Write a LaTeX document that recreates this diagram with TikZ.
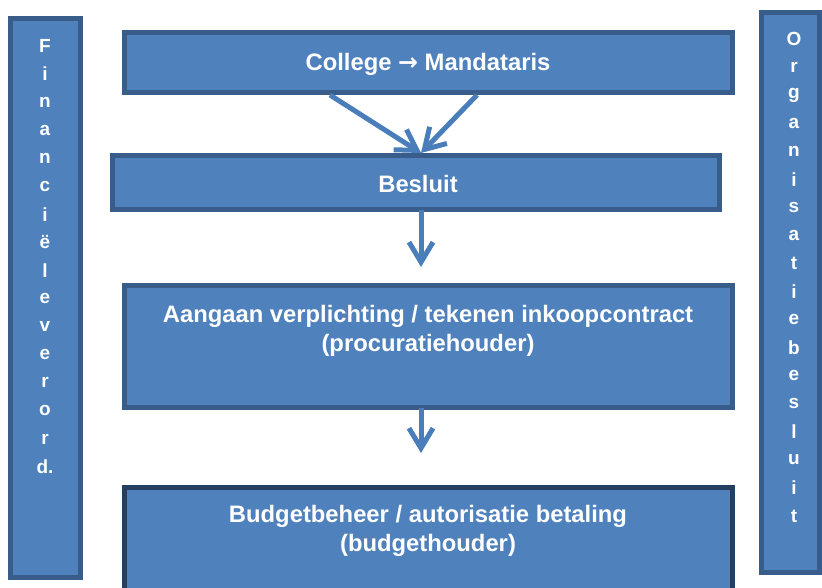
\documentclass[tikz,border=0pt]{standalone}
\usepackage{fontspec}
\setmainfont{Liberation Sans}
\newfontfamily\arrowfont{DejaVu Sans}
\usetikzlibrary{arrows.meta}
\definecolor{boxfill}{HTML}{4F81BD}
\definecolor{boxline}{HTML}{385D8A}
\definecolor{boxdark}{HTML}{243F60}
\definecolor{arrowcol}{HTML}{4A7EBB}
\tikzset{
  panel/.style={draw=boxline, fill=boxfill, line width=5pt, inner sep=0pt, outer sep=0pt},
  boxtext/.style={text=white, font=\fontsize{23.8}{29}\selectfont\bfseries, align=center, inner sep=0pt},
  sidetext/.style={text=white, font=\fontsize{19}{20}\selectfont\bfseries, inner sep=0pt},
  flow/.style={draw=arrowcol, line width=5pt, -{Straight Barb[length=20pt,width=24pt]}}
}
\begin{document}
\begin{tikzpicture}[x=1pt,y=-1pt]
\useasboundingbox (0,0) rectangle (822,587);
% side bars
\node[panel, minimum width=70pt, minimum height=559pt] (fin) at (45.5,298) {};
\node[panel, minimum width=58pt, minimum height=560pt] (org) at (790.5,292.5) {};
% boxes
\node[panel, minimum width=608pt, minimum height=60pt] (college) at (428.5,62.5) {};
\node[panel, minimum width=607pt, minimum height=54pt] (besluit) at (416,182.5) {};
\node[panel, minimum width=608pt, minimum height=122pt] (aangaan) at (428.5,346.5) {};
\node[panel, draw=boxdark, minimum width=608pt, minimum height=110pt] (budget) at (428.5,542.5) {};
% texts
\node[boxtext] (tcollege) at (428,64) {College {\arrowfont\bfseries →} Mandataris};
\node[boxtext] (tbesluit) at (418,184) {Besluit};
\node[boxtext] (taangaan) at (428,330.5) {Aangaan verplichting / tekenen inkoopcontract\\(procuratiehouder)};
\node[boxtext] (tbudget) at (428,531) {Budgetbeheer / autorisatie betaling\\(budgethouder)};
% side letters
\foreach \ch [count=\i from 0] in {F,i,n,a,n,c,i,ë,l,e,v,e,r,o,r,d.}
  \node[sidetext] (fl\i) at (45,46+28.07*\i) {\ch};
\foreach \ch [count=\i from 0] in {O,r,g,a,n,i,s,a,t,i,e,b,e,s,l,u,i,t}
  \node[sidetext] (ol\i) at (794,39+28.06*\i) {\ch};
% connectors
\coordinate (s1) at (330,95);
\coordinate (s2) at (477,95);
\coordinate (tip1) at (421,153);
\coordinate (ax) at (421,0);
\coordinate (tip2) at (421,267);
\coordinate (tip3) at (421,453);
\draw[flow] (s1) -- (tip1);
\draw[flow] (s2) -- (tip1);
\draw[flow] (besluit.south -| ax) -- (tip2);
\draw[flow] (aangaan.south -| ax) -- (tip3);
\end{tikzpicture}
\end{document}
